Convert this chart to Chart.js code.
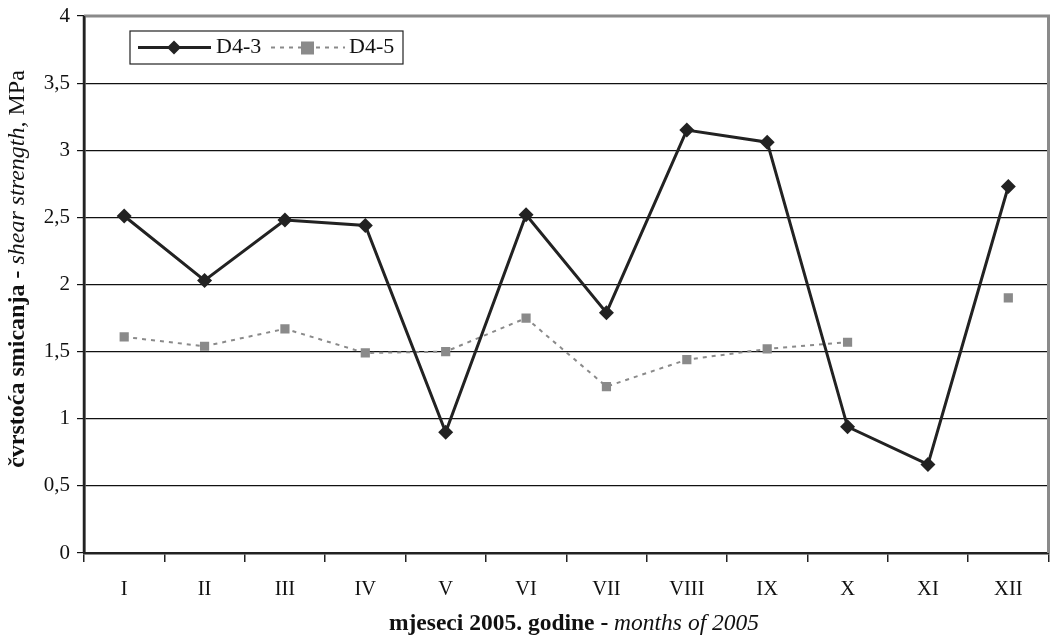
<!DOCTYPE html>
<html><head><meta charset="utf-8">
<script src="https://cdn.jsdelivr.net/npm/chart.js@4"></script>
<style>html,body{margin:0;padding:0;background:#fff}#wrap{width:1056px;height:641px}</style>
</head><body><div id="wrap"><canvas id="c" width="1056" height="641"></canvas></div>
<script>
const categories = ['I','II','III','IV','V','VI','VII','VIII','IX','X','XI','XII'];
const d43 = [2.51, 2.03, 2.48, 2.44, 0.90, 2.52, 1.79, 3.15, 3.06, 0.94, 0.66, 2.73];
const d45 = [1.61, 1.54, 1.67, 1.49, 1.50, 1.75, 1.24, 1.44, 1.52, 1.57, null, 1.90];
const seriesNames = ['D4-3', 'D4-5'];
const yTitleBold = 'čvrstoća smicanja - ';
const yTitleItalic = 'shear strength,';
const yTitleTail = ' MPa';
const xTitleBold = 'mjeseci 2005. godine - ';
const xTitleItalic = 'months of 2005';

const SERIF = '"Liberation Serif", "DejaVu Serif", serif';
const dark = '#222222';
const gray = '#8a8a8a';

function drawMixed(ctx, parts, x, y) {
  let w = 0;
  parts.forEach(p => { ctx.font = p.f; w += ctx.measureText(p.t).width; });
  let cx = x - w / 2;
  parts.forEach(p => { ctx.font = p.f; ctx.fillText(p.t, cx, y); cx += ctx.measureText(p.t).width; });
}

const decor = {
  id: 'decor',
  afterDraw(chart) {
    const ctx = chart.ctx, a = chart.chartArea;
    ctx.save();
    ctx.strokeStyle = gray; ctx.lineWidth = 3;
    ctx.beginPath();
    ctx.moveTo(a.left, a.top); ctx.lineTo(a.right, a.top); ctx.lineTo(a.right, a.bottom);
    ctx.stroke();
    ctx.strokeStyle = dark; ctx.lineWidth = 2.5;
    ctx.beginPath(); ctx.moveTo(a.left, a.top); ctx.lineTo(a.left, a.bottom); ctx.stroke();
    ctx.fillStyle = '#111'; ctx.textBaseline = 'middle'; ctx.textAlign = 'left';
    drawMixed(ctx, [
      {t: xTitleBold, f: 'bold 23.5px ' + SERIF},
      {t: xTitleItalic, f: 'italic 23.5px ' + SERIF}
    ], 574, 624);
    ctx.save();
    ctx.translate(18, 269);
    ctx.rotate(-Math.PI / 2);
    drawMixed(ctx, [
      {t: yTitleBold, f: 'bold 24px ' + SERIF},
      {t: yTitleItalic, f: 'italic 24px ' + SERIF},
      {t: yTitleTail, f: '24px ' + SERIF}
    ], 0, 0);
    ctx.restore();
    // legend
    const lx = 130, ly = 31, lw = 273, lh = 33;
    ctx.fillStyle = '#fff'; ctx.fillRect(lx, ly, lw, lh);
    ctx.strokeStyle = dark; ctx.lineWidth = 1.2; ctx.strokeRect(lx, ly, lw, lh);
    const my = ly + lh / 2;
    ctx.strokeStyle = dark; ctx.lineWidth = 3;
    ctx.beginPath(); ctx.moveTo(138, my); ctx.lineTo(211, my); ctx.stroke();
    ctx.fillStyle = dark;
    ctx.beginPath(); ctx.moveTo(174, my - 7); ctx.lineTo(181, my); ctx.lineTo(174, my + 7); ctx.lineTo(167, my); ctx.closePath(); ctx.fill();
    ctx.fillStyle = '#111'; ctx.font = '22px ' + SERIF; ctx.textBaseline = 'middle'; ctx.textAlign = 'left';
    ctx.fillText(seriesNames[0], 216, my);
    ctx.strokeStyle = gray; ctx.lineWidth = 2; ctx.setLineDash([4, 5]);
    ctx.beginPath(); ctx.moveTo(271, my); ctx.lineTo(345, my); ctx.stroke();
    ctx.setLineDash([]);
    ctx.fillStyle = gray; ctx.fillRect(301, my - 6, 13, 13);
    ctx.fillStyle = '#111';
    ctx.fillText(seriesNames[1], 349, my);
    ctx.restore();
  }
};

new Chart(document.getElementById('c'), {
  type: 'line',
  data: {
    labels: categories,
    datasets: [
      {label: seriesNames[1], data: d45, borderColor: gray, borderWidth: 2, borderDash: [4, 5],
       pointStyle: 'rect', pointRadius: 6.5, pointBackgroundColor: gray, pointBorderColor: gray, pointBorderWidth: 0,
       spanGaps: false, tension: 0, order: 2},
      {label: seriesNames[0], data: d43, borderColor: dark, borderWidth: 3,
       pointStyle: 'rectRot', pointRadius: 7.5, pointBackgroundColor: dark, pointBorderColor: dark, pointBorderWidth: 0,
       tension: 0, order: 1}
    ]
  },
  options: {
    responsive: false, animation: false, devicePixelRatio: 1,
    layout: {padding: {top: 16, right: 3, left: 0, bottom: 0}},
    plugins: {legend: {display: false}, tooltip: {enabled: false}},
    scales: {
      x: {
        offset: true,
        grid: {offset: true, drawOnChartArea: false, drawTicks: true, tickLength: 9, color: dark, lineWidth: 1.5},
        border: {color: dark, width: 2.5},
        ticks: {color: '#111', font: {family: SERIF, size: 20.5}, padding: 15},
        afterFit(s) { s.height = 88; s.paddingLeft = 0; s.paddingRight = 0; }
      },
      y: {
        min: 0, max: 4,
        grid: {color: '#111', lineWidth: 1.2, drawTicks: true, tickLength: 7},
        border: {color: dark, width: 2.5},
        ticks: {stepSize: 0.5, color: '#111', font: {family: SERIF, size: 21}, padding: 7,
          callback: v => String(v).replace('.', ',')},
        afterFit(s) { s.width = 84; s.paddingTop = 0; s.paddingBottom = 0; }
      }
    }
  },
  plugins: [decor]
});
</script></body></html>
